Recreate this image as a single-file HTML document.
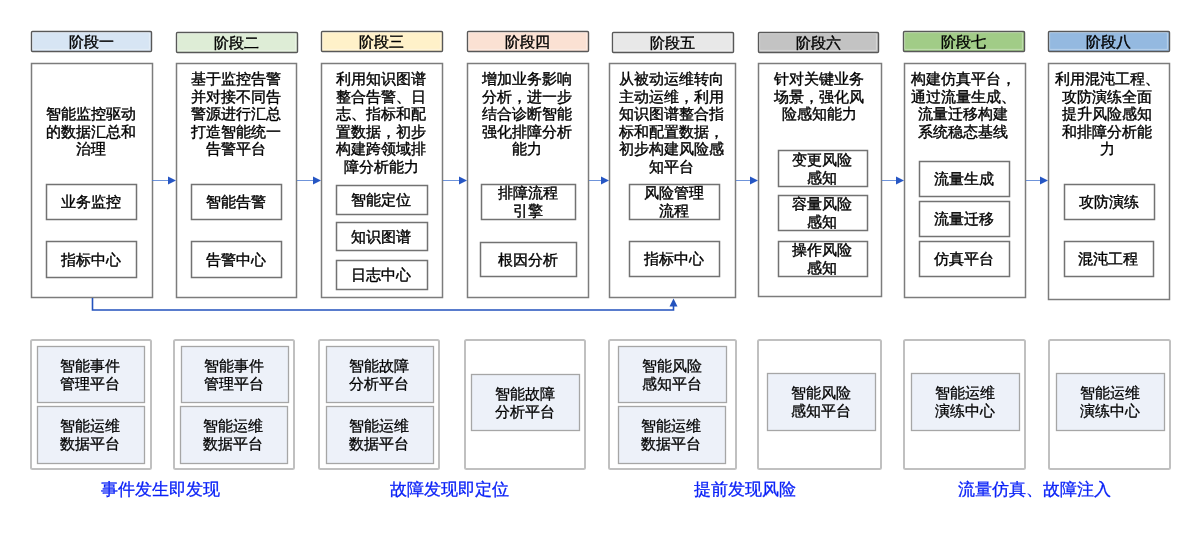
<!DOCTYPE html>
<html><head><meta charset="utf-8"><style>
html,body{margin:0;padding:0;background:#fff;width:1200px;height:540px;overflow:hidden;position:relative;font-family:"Liberation Sans", sans-serif;}
.b{position:absolute;}
.t{position:absolute;text-align:center;white-space:nowrap;font-weight:500;-webkit-text-stroke:0.4px currentColor;will-change:transform;}
</style></head><body>
<svg width="1200" height="540" style="position:absolute;left:0;top:0"><rect x="31.5" y="31.5" width="120" height="20" rx="1" fill="#D7E5F4" stroke="#585858" stroke-width="1.4"/><rect x="32.7" y="32.7" width="116.6" height="16.6" fill="none" stroke="#fff" stroke-opacity="0.45" stroke-width="0.8"/><rect x="176.5" y="32.5" width="121" height="20" rx="1" fill="#DEEDD6" stroke="#585858" stroke-width="1.4"/><rect x="177.7" y="33.7" width="117.6" height="16.6" fill="none" stroke="#fff" stroke-opacity="0.45" stroke-width="0.8"/><rect x="321.5" y="31.5" width="121" height="20" rx="1" fill="#FFF1C9" stroke="#585858" stroke-width="1.4"/><rect x="322.7" y="32.7" width="117.6" height="16.6" fill="none" stroke="#fff" stroke-opacity="0.45" stroke-width="0.8"/><rect x="467.5" y="31.5" width="121" height="20" rx="1" fill="#FBE1D3" stroke="#585858" stroke-width="1.4"/><rect x="468.7" y="32.7" width="117.6" height="16.6" fill="none" stroke="#fff" stroke-opacity="0.45" stroke-width="0.8"/><rect x="612.5" y="32.5" width="121" height="20" rx="1" fill="#E8E8E8" stroke="#585858" stroke-width="1.4"/><rect x="613.7" y="33.7" width="117.6" height="16.6" fill="none" stroke="#fff" stroke-opacity="0.45" stroke-width="0.8"/><rect x="758.5" y="32.5" width="120" height="20" rx="1" fill="#C3C3C3" stroke="#585858" stroke-width="1.4"/><rect x="759.7" y="33.7" width="116.6" height="16.6" fill="none" stroke="#fff" stroke-opacity="0.45" stroke-width="0.8"/><rect x="903.5" y="31.5" width="121" height="20" rx="1" fill="#A1CC87" stroke="#585858" stroke-width="1.4"/><rect x="904.7" y="32.7" width="117.6" height="16.6" fill="none" stroke="#fff" stroke-opacity="0.45" stroke-width="0.8"/><rect x="1048.5" y="31.5" width="121" height="20" rx="1" fill="#94B9E0" stroke="#585858" stroke-width="1.4"/><rect x="1049.7" y="32.7" width="117.6" height="16.6" fill="none" stroke="#fff" stroke-opacity="0.45" stroke-width="0.8"/><rect x="31.5" y="63.5" width="121" height="234" rx="0" fill="#fff" stroke="#7c7c7c" stroke-width="1.5"/><rect x="176.5" y="63.5" width="120" height="234" rx="0" fill="#fff" stroke="#7c7c7c" stroke-width="1.5"/><rect x="321.5" y="63.5" width="121" height="234" rx="0" fill="#fff" stroke="#7c7c7c" stroke-width="1.5"/><rect x="467.5" y="63.5" width="121" height="234" rx="0" fill="#fff" stroke="#7c7c7c" stroke-width="1.5"/><rect x="609.5" y="63.5" width="126" height="234" rx="0" fill="#fff" stroke="#7c7c7c" stroke-width="1.5"/><rect x="758.5" y="63.5" width="123" height="233" rx="0" fill="#fff" stroke="#7c7c7c" stroke-width="1.5"/><rect x="904.5" y="63.5" width="121" height="234" rx="0" fill="#fff" stroke="#7c7c7c" stroke-width="1.5"/><rect x="1048.5" y="63.5" width="121" height="236" rx="0" fill="#fff" stroke="#7c7c7c" stroke-width="1.5"/><rect x="46.5" y="184.5" width="90" height="35" rx="0" fill="#fff" stroke="#727272" stroke-width="1.5"/><rect x="46.5" y="241.5" width="90" height="36" rx="0" fill="#fff" stroke="#727272" stroke-width="1.5"/><rect x="191.5" y="184.5" width="90" height="35" rx="0" fill="#fff" stroke="#727272" stroke-width="1.5"/><rect x="191.5" y="241.5" width="90" height="36" rx="0" fill="#fff" stroke="#727272" stroke-width="1.5"/><rect x="336.5" y="185.5" width="91" height="29" rx="0" fill="#fff" stroke="#727272" stroke-width="1.5"/><rect x="336.5" y="222.5" width="91" height="28" rx="0" fill="#fff" stroke="#727272" stroke-width="1.5"/><rect x="336.5" y="260.5" width="91" height="29" rx="0" fill="#fff" stroke="#727272" stroke-width="1.5"/><rect x="481.5" y="184.5" width="94" height="35" rx="0" fill="#fff" stroke="#727272" stroke-width="1.5"/><rect x="480.5" y="242.5" width="96" height="34" rx="0" fill="#fff" stroke="#727272" stroke-width="1.5"/><rect x="629.5" y="184.5" width="90" height="35" rx="0" fill="#fff" stroke="#727272" stroke-width="1.5"/><rect x="629.5" y="241.5" width="90" height="35" rx="0" fill="#fff" stroke="#727272" stroke-width="1.5"/><rect x="778.5" y="150.5" width="89" height="36" rx="0" fill="#fff" stroke="#727272" stroke-width="1.5"/><rect x="778.5" y="195.5" width="89" height="35" rx="0" fill="#fff" stroke="#727272" stroke-width="1.5"/><rect x="778.5" y="241.5" width="89" height="35" rx="0" fill="#fff" stroke="#727272" stroke-width="1.5"/><rect x="919.5" y="161.5" width="90" height="35" rx="0" fill="#fff" stroke="#727272" stroke-width="1.5"/><rect x="919.5" y="201.5" width="90" height="35" rx="0" fill="#fff" stroke="#727272" stroke-width="1.5"/><rect x="919.5" y="241.5" width="90" height="35" rx="0" fill="#fff" stroke="#727272" stroke-width="1.5"/><rect x="1064.5" y="184.5" width="90" height="35" rx="0" fill="#fff" stroke="#727272" stroke-width="1.5"/><rect x="1064.5" y="241.5" width="89" height="35" rx="0" fill="#fff" stroke="#727272" stroke-width="1.5"/><rect x="31" y="340" width="120" height="129" rx="1.5" fill="#fff" stroke="#c0c0c0" stroke-width="2"/><rect x="174" y="340" width="120" height="129" rx="1.5" fill="#fff" stroke="#c0c0c0" stroke-width="2"/><rect x="319" y="340" width="120" height="129" rx="1.5" fill="#fff" stroke="#c0c0c0" stroke-width="2"/><rect x="465" y="340" width="120" height="129" rx="1.5" fill="#fff" stroke="#c0c0c0" stroke-width="2"/><rect x="609" y="340" width="127" height="129" rx="1.5" fill="#fff" stroke="#c0c0c0" stroke-width="2"/><rect x="758" y="340" width="123" height="129" rx="1.5" fill="#fff" stroke="#c0c0c0" stroke-width="2"/><rect x="904" y="340" width="121" height="129" rx="1.5" fill="#fff" stroke="#c0c0c0" stroke-width="2"/><rect x="1049" y="340" width="121" height="129" rx="1.5" fill="#fff" stroke="#c0c0c0" stroke-width="2"/><rect x="37.5" y="346.5" width="107" height="56" rx="0" fill="#EDF1F9" stroke="#a6a6a6" stroke-width="1.3"/><rect x="37.5" y="406.5" width="107" height="57" rx="0" fill="#EDF1F9" stroke="#a6a6a6" stroke-width="1.3"/><rect x="181.5" y="346.5" width="107" height="56" rx="0" fill="#EDF1F9" stroke="#a6a6a6" stroke-width="1.3"/><rect x="180.5" y="406.5" width="107" height="57" rx="0" fill="#EDF1F9" stroke="#a6a6a6" stroke-width="1.3"/><rect x="326.5" y="346.5" width="107" height="56" rx="0" fill="#EDF1F9" stroke="#a6a6a6" stroke-width="1.3"/><rect x="326.5" y="406.5" width="107" height="57" rx="0" fill="#EDF1F9" stroke="#a6a6a6" stroke-width="1.3"/><rect x="471.5" y="374.5" width="108" height="56" rx="0" fill="#EDF1F9" stroke="#a6a6a6" stroke-width="1.3"/><rect x="618.5" y="346.5" width="108" height="56" rx="0" fill="#EDF1F9" stroke="#a6a6a6" stroke-width="1.3"/><rect x="618.5" y="406.5" width="107" height="57" rx="0" fill="#EDF1F9" stroke="#a6a6a6" stroke-width="1.3"/><rect x="767.5" y="373.5" width="108" height="57" rx="0" fill="#EDF1F9" stroke="#a6a6a6" stroke-width="1.3"/><rect x="911.5" y="373.5" width="108" height="57" rx="0" fill="#EDF1F9" stroke="#a6a6a6" stroke-width="1.3"/><rect x="1056.5" y="373.5" width="108" height="57" rx="0" fill="#EDF1F9" stroke="#a6a6a6" stroke-width="1.3"/></svg>
<div class="t" style="left:20.90px;top:33.00px;width:140px;font-size:15px;line-height:18px;color:#000;">阶段一</div><div class="t" style="left:166.40px;top:34.00px;width:140px;font-size:15px;line-height:18px;color:#000;">阶段二</div><div class="t" style="left:311.40px;top:33.00px;width:140px;font-size:15px;line-height:18px;color:#000;">阶段三</div><div class="t" style="left:457.40px;top:33.00px;width:140px;font-size:15px;line-height:18px;color:#000;">阶段四</div><div class="t" style="left:602.40px;top:34.00px;width:140px;font-size:15px;line-height:18px;color:#000;">阶段五</div><div class="t" style="left:747.90px;top:34.00px;width:140px;font-size:15px;line-height:18px;color:#000;">阶段六</div><div class="t" style="left:893.40px;top:33.00px;width:140px;font-size:15px;line-height:18px;color:#000;">阶段七</div><div class="t" style="left:1038.40px;top:33.00px;width:140px;font-size:15px;line-height:18px;color:#000;">阶段八</div><div class="t" style="left:30.40px;top:105.00px;width:122px;font-size:15px;line-height:17.6px;color:#000;">智能监控驱动<br>的数据汇总和<br>治理</div><div class="t" style="left:175.40px;top:70.00px;width:121px;font-size:15px;line-height:17.6px;color:#000;">基于监控告警<br>并对接不同告<br>警源进行汇总<br>打造智能统一<br>告警平台</div><div class="t" style="left:320.40px;top:70.00px;width:122px;font-size:15px;line-height:17.6px;color:#000;">利用知识图谱<br>整合告警、日<br>志、指标和配<br>置数据，初步<br>构建跨领域排<br>障分析能力</div><div class="t" style="left:466.40px;top:70.00px;width:122px;font-size:15px;line-height:17.6px;color:#000;">增加业务影响<br>分析，进一步<br>结合诊断智能<br>强化排障分析<br>能力</div><div class="t" style="left:608.40px;top:70.00px;width:127px;font-size:15px;line-height:17.6px;color:#000;">从被动运维转向<br>主动运维，利用<br>知识图谱整合指<br>标和配置数据，<br>初步构建风险感<br>知平台</div><div class="t" style="left:757.40px;top:70.00px;width:124px;font-size:15px;line-height:17.6px;color:#000;">针对关键业务<br>场景，强化风<br>险感知能力</div><div class="t" style="left:901.80px;top:70.00px;width:122px;font-size:15px;line-height:17.6px;color:#000;">构建仿真平台，<br>通过流量生成、<br>流量迁移构建<br>系统稳态基线</div><div class="t" style="left:1045.80px;top:70.00px;width:122px;font-size:15px;line-height:17.6px;color:#000;">利用混沌工程、<br>攻防演练全面<br>提升风险感知<br>和排障分析能<br>力</div><div class="t" style="left:45.40px;top:193.20px;width:91px;font-size:15px;line-height:17.6px;color:#000;">业务监控</div><div class="t" style="left:45.40px;top:250.70px;width:91px;font-size:15px;line-height:17.6px;color:#000;">指标中心</div><div class="t" style="left:190.40px;top:193.20px;width:91px;font-size:15px;line-height:17.6px;color:#000;">智能告警</div><div class="t" style="left:190.40px;top:250.70px;width:91px;font-size:15px;line-height:17.6px;color:#000;">告警中心</div><div class="t" style="left:335.40px;top:191.20px;width:92px;font-size:15px;line-height:17.6px;color:#000;">智能定位</div><div class="t" style="left:335.40px;top:227.70px;width:92px;font-size:15px;line-height:17.6px;color:#000;">知识图谱</div><div class="t" style="left:335.40px;top:266.20px;width:92px;font-size:15px;line-height:17.6px;color:#000;">日志中心</div><div class="t" style="left:480.40px;top:184.40px;width:95px;font-size:15px;line-height:17.6px;color:#000;">排障流程<br>引擎</div><div class="t" style="left:479.40px;top:250.70px;width:97px;font-size:15px;line-height:17.6px;color:#000;">根因分析</div><div class="t" style="left:628.40px;top:184.40px;width:91px;font-size:15px;line-height:17.6px;color:#000;">风险管理<br>流程</div><div class="t" style="left:628.40px;top:250.20px;width:91px;font-size:15px;line-height:17.6px;color:#000;">指标中心</div><div class="t" style="left:777.40px;top:150.90px;width:90px;font-size:15px;line-height:17.6px;color:#000;">变更风险<br>感知</div><div class="t" style="left:777.40px;top:195.40px;width:90px;font-size:15px;line-height:17.6px;color:#000;">容量风险<br>感知</div><div class="t" style="left:777.40px;top:241.40px;width:90px;font-size:15px;line-height:17.6px;color:#000;">操作风险<br>感知</div><div class="t" style="left:918.40px;top:170.20px;width:91px;font-size:15px;line-height:17.6px;color:#000;">流量生成</div><div class="t" style="left:918.40px;top:210.20px;width:91px;font-size:15px;line-height:17.6px;color:#000;">流量迁移</div><div class="t" style="left:918.40px;top:250.20px;width:91px;font-size:15px;line-height:17.6px;color:#000;">仿真平台</div><div class="t" style="left:1063.40px;top:193.20px;width:91px;font-size:15px;line-height:17.6px;color:#000;">攻防演练</div><div class="t" style="left:1063.40px;top:250.20px;width:90px;font-size:15px;line-height:17.6px;color:#000;">混沌工程</div><div class="t" style="left:36.40px;top:356.80px;width:108px;font-size:15px;line-height:18px;color:#000;-webkit-text-stroke-width:0.3px;">智能事件<br>管理平台</div><div class="t" style="left:36.40px;top:417.30px;width:108px;font-size:15px;line-height:18px;color:#000;-webkit-text-stroke-width:0.3px;">智能运维<br>数据平台</div><div class="t" style="left:180.40px;top:356.80px;width:108px;font-size:15px;line-height:18px;color:#000;-webkit-text-stroke-width:0.3px;">智能事件<br>管理平台</div><div class="t" style="left:179.40px;top:417.30px;width:108px;font-size:15px;line-height:18px;color:#000;-webkit-text-stroke-width:0.3px;">智能运维<br>数据平台</div><div class="t" style="left:325.40px;top:356.80px;width:108px;font-size:15px;line-height:18px;color:#000;-webkit-text-stroke-width:0.3px;">智能故障<br>分析平台</div><div class="t" style="left:325.40px;top:417.30px;width:108px;font-size:15px;line-height:18px;color:#000;-webkit-text-stroke-width:0.3px;">智能运维<br>数据平台</div><div class="t" style="left:470.40px;top:384.80px;width:109px;font-size:15px;line-height:18px;color:#000;-webkit-text-stroke-width:0.3px;">智能故障<br>分析平台</div><div class="t" style="left:617.40px;top:356.80px;width:109px;font-size:15px;line-height:18px;color:#000;-webkit-text-stroke-width:0.3px;">智能风险<br>感知平台</div><div class="t" style="left:617.40px;top:417.30px;width:108px;font-size:15px;line-height:18px;color:#000;-webkit-text-stroke-width:0.3px;">智能运维<br>数据平台</div><div class="t" style="left:766.40px;top:384.30px;width:109px;font-size:15px;line-height:18px;color:#000;-webkit-text-stroke-width:0.3px;">智能风险<br>感知平台</div><div class="t" style="left:910.40px;top:384.30px;width:109px;font-size:15px;line-height:18px;color:#000;-webkit-text-stroke-width:0.3px;">智能运维<br>演练中心</div><div class="t" style="left:1055.40px;top:384.30px;width:109px;font-size:15px;line-height:18px;color:#000;-webkit-text-stroke-width:0.3px;">智能运维<br>演练中心</div><div class="t" style="left:59.90px;top:479.50px;width:200px;font-size:17px;line-height:20px;color:#0b22f7;-webkit-text-stroke-width:0.3px;">事件发生即发现</div><div class="t" style="left:348.90px;top:479.50px;width:200px;font-size:17px;line-height:20px;color:#0b22f7;-webkit-text-stroke-width:0.3px;">故障发现即定位</div><div class="t" style="left:645.40px;top:479.50px;width:200px;font-size:17px;line-height:20px;color:#0b22f7;-webkit-text-stroke-width:0.3px;">提前发现风险</div><div class="t" style="left:933.90px;top:479.50px;width:200px;font-size:17px;line-height:20px;color:#0b22f7;-webkit-text-stroke-width:0.3px;">流量仿真、故障注入</div>
<svg width="1200" height="540" style="position:absolute;left:0;top:0"><line x1="152" y1="180.5" x2="168" y2="180.5" stroke="#4a78d0" stroke-width="0.8"/><polygon points="168,176.5 176,180.5 168,184.5" fill="#2656c4"/><line x1="297" y1="180.5" x2="313" y2="180.5" stroke="#4a78d0" stroke-width="0.8"/><polygon points="313,176.5 321,180.5 313,184.5" fill="#2656c4"/><line x1="443" y1="180.5" x2="459" y2="180.5" stroke="#4a78d0" stroke-width="0.8"/><polygon points="459,176.5 467,180.5 459,184.5" fill="#2656c4"/><line x1="589" y1="180.5" x2="601" y2="180.5" stroke="#4a78d0" stroke-width="0.8"/><polygon points="601,176.5 609,180.5 601,184.5" fill="#2656c4"/><line x1="736" y1="180.5" x2="750" y2="180.5" stroke="#4a78d0" stroke-width="0.8"/><polygon points="750,176.5 758,180.5 750,184.5" fill="#2656c4"/><line x1="882" y1="180.5" x2="896" y2="180.5" stroke="#4a78d0" stroke-width="0.8"/><polygon points="896,176.5 904,180.5 896,184.5" fill="#2656c4"/><line x1="1026" y1="180.5" x2="1040" y2="180.5" stroke="#4a78d0" stroke-width="0.8"/><polygon points="1040,176.5 1048,180.5 1040,184.5" fill="#2656c4"/><polyline points="92.5,298 92.5,310 673.5,310 673.5,305" fill="none" stroke="#2352bd" stroke-width="1.6"/><polygon points="669.5,306.5 673.5,298.5 677.5,306.5" fill="#2352bd"/></svg>
</body></html>
